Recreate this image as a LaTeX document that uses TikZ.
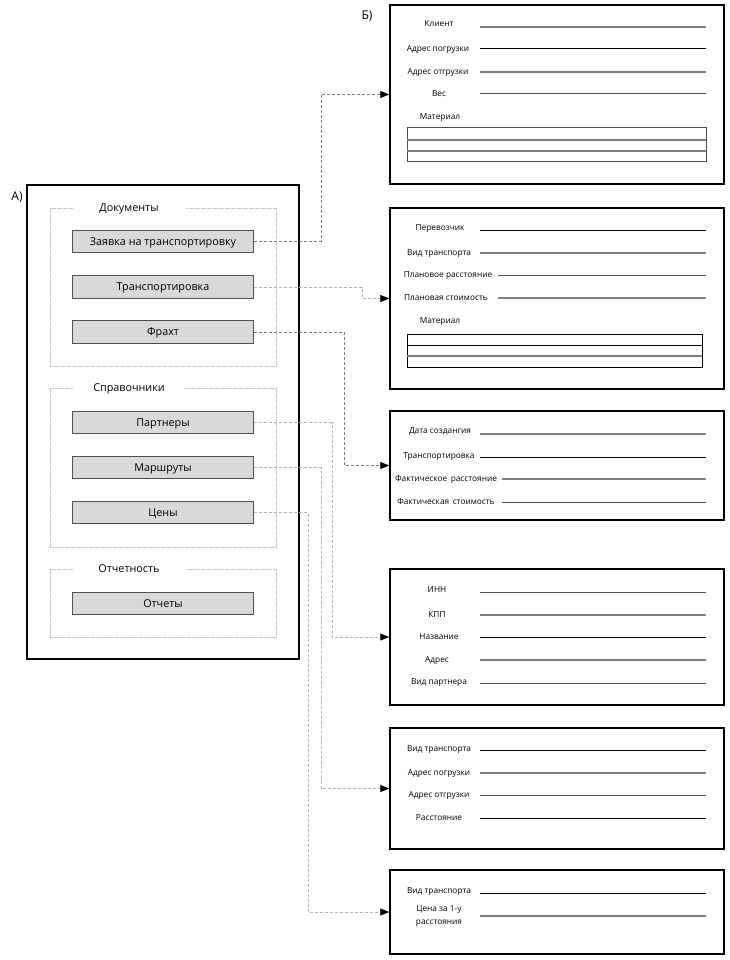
\documentclass[tikz,border=0pt]{standalone}
\usepackage{fontspec}
\setmainfont{Open Sans}
\usetikzlibrary{arrows.meta}
\definecolor{btnfill}{HTML}{D9D9D9}
\definecolor{grpline}{HTML}{C8C8C8}
\definecolor{conndark}{HTML}{808080}
\definecolor{connlight}{HTML}{B4B4B4}
\definecolor{fgray}{HTML}{808080}
\definecolor{fdark}{HTML}{505050}
\begin{document}
\begin{tikzpicture}[x=1pt,y=-1pt,
  outerbox/.style={draw=black,line width=1.5pt},
  grpbox/.style={draw=grpline,line width=0.9pt,dash pattern=on 5pt off 1pt},
  grptitle/.style={fill=white,inner sep=0pt,minimum width=113pt,text height=7.5pt,text depth=0pt,font=\fontsize{10.8}{12}\selectfont},
  btn/.style={draw=fdark,fill=btnfill,line width=1.2pt,minimum width=181pt,minimum height=22.5pt,inner sep=0pt,text height=7.5pt,text depth=0pt,font=\fontsize{10.8}{12}\selectfont},
  form/.style={draw=black,line width=1.5pt,inner sep=0pt,minimum width=334pt},
  lbl/.style={inner sep=0pt,text height=5.8pt,text depth=0pt,font=\fontsize{8.3}{9}\selectfont,align=center},
  fb/.style={draw=black,line width=1pt},
  fg/.style={draw=fgray,line width=1.3pt},
  fd/.style={draw=fdark,line width=1pt},
  conn/.style={line width=0.8pt,dash pattern=on 3pt off 2pt,-{Triangle[length=9pt,width=7pt,color=black]}},
  tag/.style={inner sep=0pt,font=\fontsize{12}{14}\selectfont}
]
\useasboundingbox (0,0) rectangle (729,960);

% ---------- A) panel ----------
\node[tag] (tagA) at (17,197) {А)};
\draw[outerbox] (27,185) rectangle (299,659);

\draw[grpbox] (50,208) rectangle (276,366);
\node[grptitle] (g1) at (129,208) {Документы};
\draw[grpbox] (50,388) rectangle (276,547);
\node[grptitle] (g2) at (129,388) {Справочники};
\draw[grpbox] (50,569) rectangle (276,637);
\node[grptitle] (g3) at (129,569) {Отчетность};

\node[btn] (b1) at (163,241.5) {Заявка на транспортировку};
\node[btn] (b2) at (163,287) {Транспортировка};
\node[btn] (b3) at (163,332) {Фрахт};
\node[btn] (b4) at (163,422.5) {Партнеры};
\node[btn] (b5) at (163,467.5) {Маршруты};
\node[btn] (b6) at (163,512.5) {Цены};
\node[btn] (b7) at (163,603.5) {Отчеты};

% ---------- Б) forms ----------
\node[tag] (tagB) at (367,16) {Б)};
\node[form,minimum height=179pt] (f1) at (557,94.5) {};
\node[form,minimum height=181pt] (f2) at (557,298.5) {};
\node[form,minimum height=109pt] (f3) at (557,465.5) {};
\node[form,minimum height=136pt] (f4) at (557,637) {};
\node[form,minimum height=121pt] (f5) at (557,788.5) {};
\node[form,minimum height=84pt]  (f6) at (557,912) {};

% form 1
\node[lbl] (l11) at (439,24) {Клиент};
\draw[fg] (480,27) -- (706,27);
\node[lbl] (l12) at (438,49) {Адрес погрузки};
\draw[fb] (480,49) -- (706,49);
\node[lbl] (l13) at (438,72) {Адрес отгрузки};
\draw[fg] (480,72) -- (706,72);
\node[lbl] (l14) at (439,94) {Вес};
\draw[fd] (480,94) -- (706,94);
\node[lbl] (l15) at (440,117) {Материал};
\draw[fd] (407,128) rectangle (706,162);
\draw[fg] (407,140) -- (706,140);
\draw[fg] (407,151) -- (706,151);

% form 2
\node[lbl] (l21) at (440,228) {Перевозчик};
\draw[fb] (480,230) -- (706,230);
\node[lbl] (l22) at (439,253) {Вид транспорта};
\draw[fg] (480,253) -- (706,253);
\node[lbl] (l23) at (448,275) {Плановое расстояние};
\draw[fd] (498,275) -- (706,275);
\node[lbl] (l24) at (446,298) {Плановая стоимость};
\draw[fg] (498,298) -- (706,298);
\node[lbl] (l25) at (440,321) {Материал};
\draw[fb] (407,334) rectangle (702,367);
\draw[fb] (407,345.5) -- (702,345.5);
\draw[fg] (407,356) -- (702,356);

% form 3
\node[lbl] (l31) at (440,431) {Дата создангия};
\draw[fg,line width=1.6pt] (480,434) -- (706,434);
\node[lbl] (l32) at (439,456) {Транспортировка};
\draw[fb] (480,457) -- (706,457);
\node[lbl] (l33) at (446,479) {Фактическое\, расстояние};
\draw[fg] (502,479) -- (706,479);
\node[lbl] (l34) at (446,501.5) {Фактическая\, стоимость};
\draw[fd] (502,502) -- (706,502);

% form 4
\node[lbl] (l41) at (437,590) {ИНН};
\draw[fd] (480,592) -- (706,592);
\node[lbl] (l42) at (437,615) {КПП};
\draw[fg] (480,615) -- (706,615);
\node[lbl] (l43) at (439,637) {Название};
\draw[fb] (480,637) -- (706,637);
\node[lbl] (l44) at (437,660) {Адрес};
\draw[fg] (480,660) -- (706,660);
\node[lbl] (l45) at (439,682) {Вид партнера};
\draw[fd] (480,683) -- (706,683);

% form 5
\node[lbl] (l51) at (439,748.5) {Вид транспорта};
\draw[fb] (480,750.5) -- (706,750.5);
\node[lbl] (l52) at (439,773) {Адрес погрузки};
\draw[fg] (480,773) -- (706,773);
\node[lbl] (l53) at (439,795) {Адрес отгрузки};
\draw[fd] (480,795.5) -- (706,795.5);
\node[lbl] (l54) at (439,818) {Расстояние};
\draw[fb] (480,818) -- (706,818);

% form 6
\node[lbl] (l61) at (439,891) {Вид транспорта};
\draw[fb] (480,893) -- (706,893);
\node[lbl,text height=,text depth=,font=\fontsize{8.3}{13}\selectfont] (l62) at (439,916.5) {Цена за 1-у\\расстояния};
\draw[fg] (480,916) -- (706,916);

% ---------- connectors ----------
\draw[conn,draw=conndark] (b1.east) -| (321,0 |- f1.west) -- (f1.west);
\draw[conn,draw=connlight] (b2.east) -| (362,0 |- f2.west) -- (f2.west);
\draw[conn,draw=conndark] (b3.east) -| (344,0 |- f3.west) -- (f3.west);
\draw[conn,draw=connlight] (b4.east) -| (332,0 |- f4.west) -- (f4.west);
\draw[conn,draw=connlight] (b5.east) -| (321,0 |- f5.west) -- (f5.west);
\draw[conn,draw=connlight] (b6.east) -| (308,0 |- f6.west) -- (f6.west);
\end{tikzpicture}
\end{document}
